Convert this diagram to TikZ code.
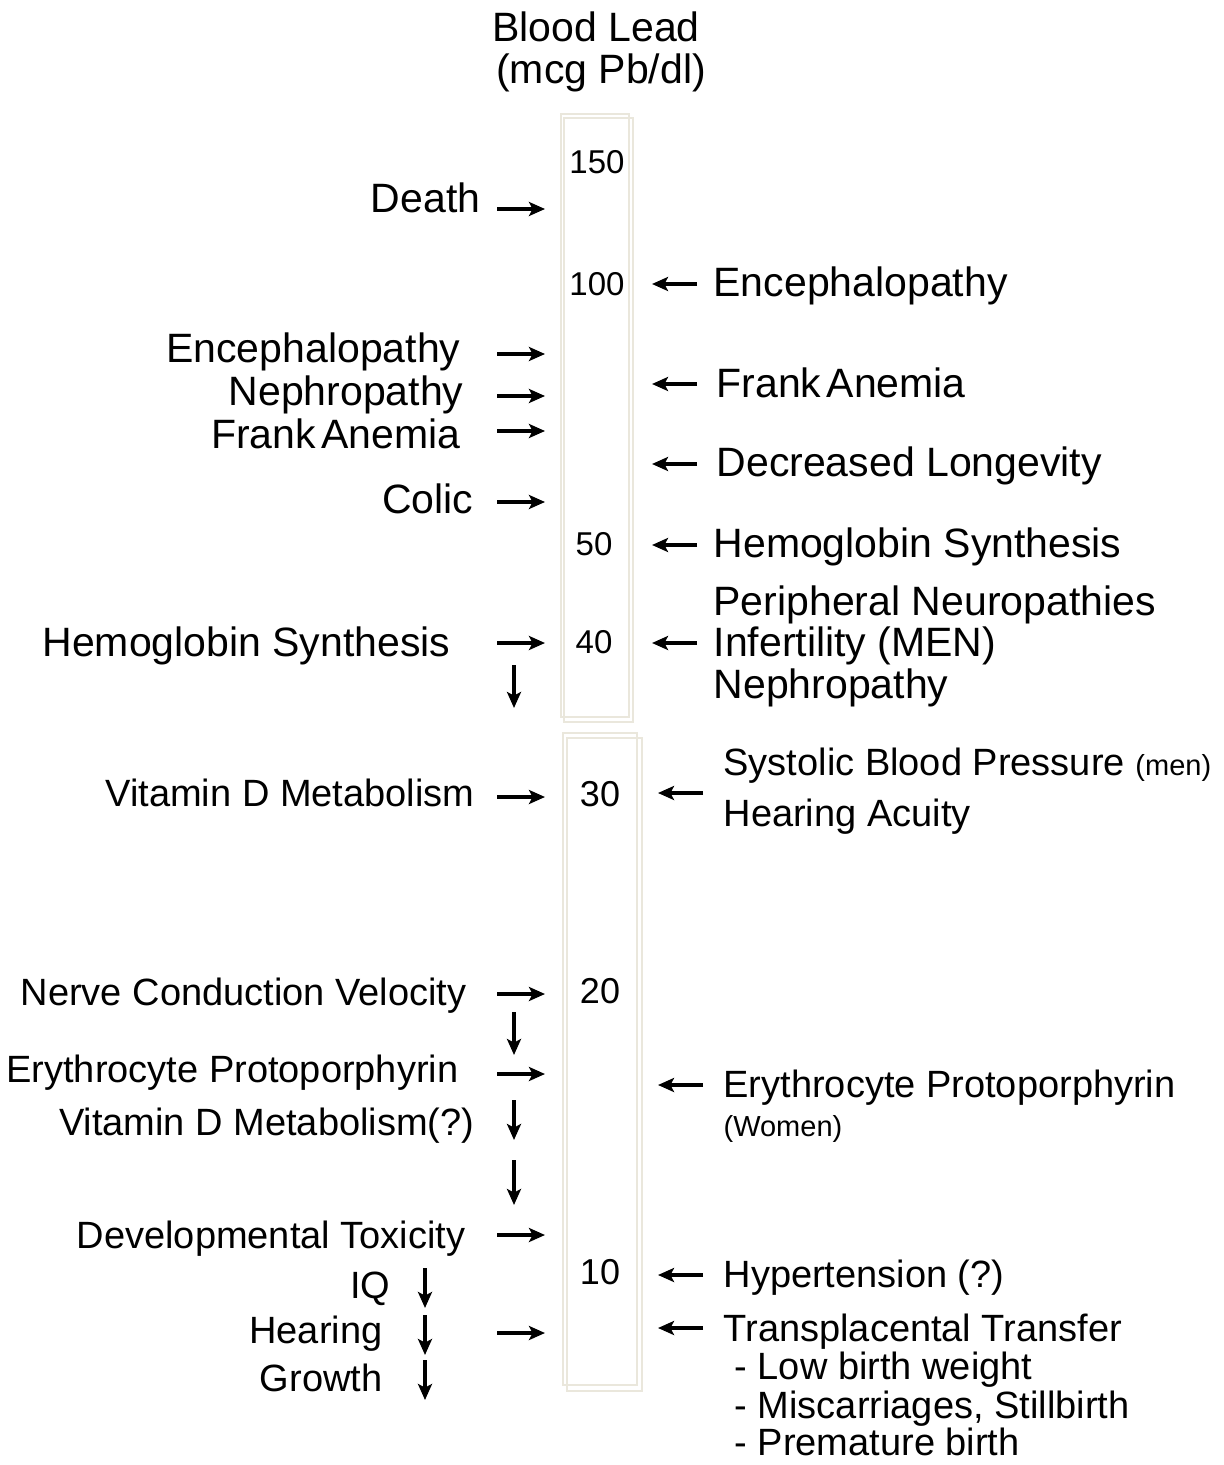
\documentclass[tikz,border=0pt]{standalone}
\usepackage{fontspec}
\setmainfont{Liberation Sans}
\usetikzlibrary{arrows.meta, positioning}
\definecolor{barEdge}{HTML}{EAE7DC}
\tikzset{
  % pointers with small solid heads
  every picture/.append style = {line width=1.6pt, >={Stealth[length=8pt, width=7pt, inset=1.8pt]}},
  efct/.style   = {inner sep=0pt, font=\fontsize{20.5}{24}\selectfont},
  efctl/.style  = {inner sep=0pt, font=\fontsize{19}{23}\selectfont},
  note/.style   = {inner sep=0pt, font=\fontsize{14.5}{17}\selectfont},
  lvl/.style    = {inner sep=0pt, font=\fontsize{16.5}{20}\selectfont},
  lvll/.style   = {inner sep=0pt, font=\fontsize{18}{21}\selectfont},
  ptr/.style    = {->, line width=1.6pt, black},
  barline/.style = {barEdge, line width=1pt},
}

\begin{document}
\begin{tikzpicture}[x=0.5pt,y=-0.5pt]
  \useasboundingbox (0,0) rectangle (1224,1465);
  % heading
  \node[efct, anchor=base] (head1) at (596,42) {Blood Lead};
  \node[efct, anchor=base] (head2) at (601,84) {(mcg Pb/dl)};
  % the two scale bars, drawn twice with a small offset
  \draw[barline] (561,114) rectangle (629,717);
  \draw[barline] (564,118) rectangle (633,722);
  \draw[barline] (563,733) rectangle (637,1385);
  \draw[barline] (567,738) rectangle (642,1391);
  % levels
  \node[lvl]  (v150) at (597,162) {150};
  \node[lvl]  (v100) at (597,284) {100};
  \node[lvl]  (v50)  at (594,544) {50};
  \node[lvl]  (v40)  at (594,642) {40};
  \node[lvll] (v30)  at (600,794) {30};
  \node[lvll] (v20)  at (600,991) {20};
  \node[lvll] (v10)  at (600,1272) {10};
  % effects in children (left)
  \node[efct, anchor=base east] (cDeath) at (482,213) {Death};
  \node[efct, anchor=base east] (cEnc)   at (462,363) {Encephalopathy};
  \node[efct, anchor=base east] (cNeph)  at (465,405) {Nephropathy};
  \node[efct, anchor=base east] (cAnem)  at (462,448) {Frank\kern0.13em Anemia};
  \node[efct, anchor=base east] (cColic) at (475,513) {Colic};
  \node[efct, anchor=base east] (cHem)   at (452,656) {Hemoglobin Synthesis};
  \node[efctl, anchor=base east] (cVitD) at (476,806) {Vitamin D Metabolism};
  \node[efctl, anchor=base east] (cNerve) at (468,1005) {Nerve Conduction Velocity};
  \node[efctl, anchor=base east] (cEryth) at (460,1082) {Erythrocyte Protoporphyrin};
  \node[efctl, anchor=base east] (cVitDq) at (476,1135) {Vitamin D Metabolism(?)};
  \node[efctl, anchor=base east] (cDev)  at (467,1248) {Developmental Toxicity};
  \node[efctl, anchor=base east] (cIQ)   at (392,1298) {IQ};
  \node[efctl, anchor=base east] (cHear) at (384,1343) {Hearing};
  \node[efctl, anchor=base east] (cGrow) at (384,1391) {Growth};
  % effects in adults (right)
  \node[efct, anchor=base west] (aEnc)   at (712,297) {Encephalopathy};
  \node[efct, anchor=base west] (aAnem)  at (715,397) {Frank\kern0.13em Anemia};
  \node[efct, anchor=base west] (aLong)  at (715,476) {Decreased Longevity};
  \node[efct, anchor=base west] (aHem)   at (712,557) {Hemoglobin Synthesis};
  \node[efct, anchor=base west] (aPeri)  at (712,615) {Peripheral Neuropathies};
  \node[efct, anchor=base west] (aInf)   at (712,656) {Infertility (MEN)};
  \node[efct, anchor=base west] (aNeph)  at (712,698) {Nephropathy};
  \node[efctl, anchor=base west] (aSys)  at (722,775) {Systolic Blood Pressure \textnormal{\fontsize{14.5}{17}\selectfont(men)}};
  \node[efctl, anchor=base west] (aHacu) at (722,826) {Hearing Acuity};
  \node[efctl, anchor=base west] (aEryth) at (722,1097) {Erythrocyte Protoporphyrin};
  \node[note, anchor=base west]  (aWom)  at (722,1136) {(Women)};
  \node[efctl, anchor=base west] (aHyp)  at (722,1287) {Hypertension (?)};
  \node[efctl, anchor=base west] (aTrans) at (722,1341) {Transplacental Transfer};
  \node[efctl, anchor=base west] (aLow)  at (733,1379) {- Low birth weight};
  \node[efctl, anchor=base west] (aMisc) at (733,1418) {- Miscarriages, Stillbirth};
  \node[efctl, anchor=base west, text depth=0pt] (aPrem) at (733,1455) {- Premature birth};
  % pointers from the left
  \foreach \n/\y in {death/209, enc/354, neph/396, anem/431, colic/502, hem/643,
                     vitd/797, nerve/994, eryth/1074, dev/1235, grow/1333} {
    \coordinate (\n-t) at (497,\y);
    \coordinate (\n-h) at (545,\y);
    \draw[ptr] (\n-t) -- (\n-h);
  }
  % pointers from the right, upper bar
  \foreach \n/\y in {aenc/284, aanem/384, along/464, ahem/545, ainf/643} {
    \coordinate (\n-t) at (697,\y);
    \coordinate (\n-h) at (652,\y);
    \draw[ptr] (\n-t) -- (\n-h);
  }
  % pointers from the right, lower bar
  \foreach \n/\y in {asys/793, aeryth/1085, ahyp/1275, atrans/1328} {
    \coordinate (\n-t) at (703,\y);
    \coordinate (\n-h) at (658,\y);
    \draw[ptr] (\n-t) -- (\n-h);
  }
  % falling values
  \foreach \n/\x/\ya/\yb in {d1/514/665/708, d2/514/1012/1055, d3/514/1100/1140,
                             d4/514/1160/1205, d5/425/1268/1308, d6/425/1315/1355,
                             d7/425/1360/1400} {
    \coordinate (\n-t) at (\x,\ya);
    \coordinate (\n-h) at (\x,\yb);
    \draw[ptr] (\n-t) -- (\n-h);
  }
\end{tikzpicture}
\end{document}
